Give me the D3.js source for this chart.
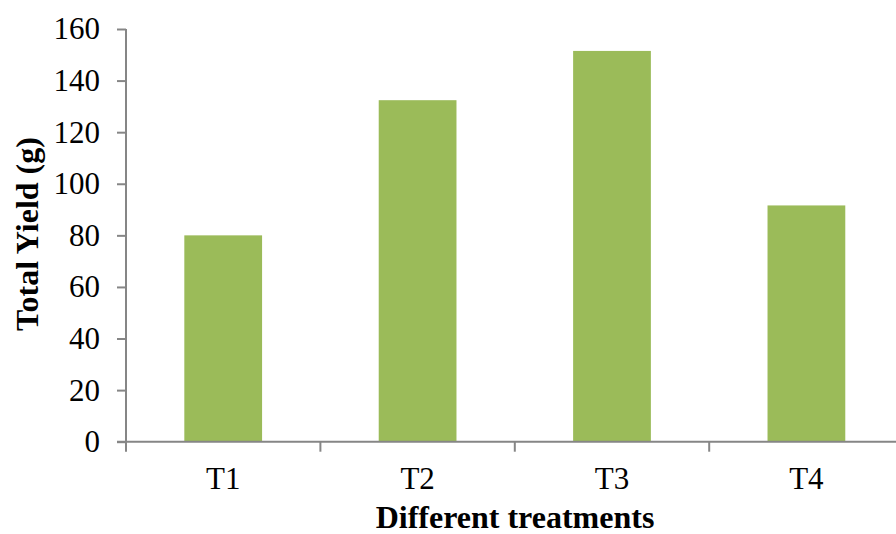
<!DOCTYPE html>
<html>
<head>
<meta charset="utf-8">
<script src="https://cdn.jsdelivr.net/npm/d3@7"></script>
<style>
  html, body { margin: 0; padding: 0; background: #fff; }
  svg { display: block; }
</style>
</head>
<body>
<svg id="chart" width="896" height="534"></svg>
<script>
// Total yield per treatment
const treatments = ["T1", "T2", "T3", "T4"];
const yieldValues = [80, 132.4, 151.5, 91.6];
const yTicks = [0, 20, 40, 60, 80, 100, 120, 140, 160];

const svg = d3.select("#chart");
const margin = { left: 126, top: 29, bottom: 93 };
const plotW = 4 * 194.4;
const plotBottom = 534 - margin.bottom + 0.7;

const x = d3.scaleBand()
  .domain(treatments)
  .range([margin.left, margin.left + plotW])
  .paddingInner(0.6)
  .paddingOuter(0.3);

const y = d3.scaleLinear()
  .domain([0, 160])
  .range([plotBottom, margin.top]);

const axisColor = "#868686";
const font = "'Liberation Serif', 'Times New Roman', serif";

// Bars
svg.append("g")
  .selectAll("rect")
  .data(treatments)
  .join("rect")
  .attr("x", d => x(d))
  .attr("width", x.bandwidth())
  .attr("y", (d, i) => y(yieldValues[i]))
  .attr("height", (d, i) => y(0) - y(yieldValues[i]))
  .attr("fill", "#9BBB59");

// Y axis
const yAxis = svg.append("g")
  .attr("transform", `translate(${margin.left},0)`)
  .call(d3.axisLeft(y).tickValues(yTicks).tickSize(9).tickPadding(17).tickFormat(d3.format("d")));
yAxis.select(".domain").attr("stroke", axisColor).attr("stroke-width", 2)
  .attr("d", `M0,${y(160)}H0V${y(0)}`);
yAxis.selectAll(".tick line").attr("stroke", axisColor).attr("stroke-width", 2);
yAxis.selectAll(".tick text")
  .attr("fill", "#000")
  .style("font-family", font)
  .style("font-size", "31px");

// X axis with boundary ticks between categories
const xg = svg.append("g").attr("transform", `translate(0,${y(0)})`);
xg.append("line")
  .attr("x1", margin.left - 9).attr("x2", 896)
  .attr("stroke", axisColor).attr("stroke-width", 2);
const boundaries = d3.range(treatments.length + 1).map(i => margin.left + i * x.step());
xg.selectAll(".bt")
  .data(boundaries)
  .join("line")
  .attr("class", "bt")
  .attr("x1", d => d).attr("x2", d => d)
  .attr("y1", 0).attr("y2", 10)
  .attr("stroke", axisColor).attr("stroke-width", 2);
xg.selectAll(".lbl")
  .data(treatments)
  .join("text")
  .attr("class", "lbl")
  .attr("x", d => x(d) + x.bandwidth() / 2)
  .attr("y", 47)
  .attr("text-anchor", "middle")
  .style("font-family", font)
  .style("font-size", "31px")
  .text(d => d);

// Axis titles
svg.append("text")
  .attr("x", 515)
  .attr("y", 528)
  .attr("text-anchor", "middle")
  .style("font-family", font)
  .style("font-weight", "bold")
  .style("font-size", "32px")
  .text("Different treatments");

svg.append("text")
  .attr("transform", "translate(38,234) rotate(-90)")
  .attr("text-anchor", "middle")
  .style("font-family", font)
  .style("font-weight", "bold")
  .style("font-size", "32px")
  .text("Total Yield (g)");
</script>
</body>
</html>
